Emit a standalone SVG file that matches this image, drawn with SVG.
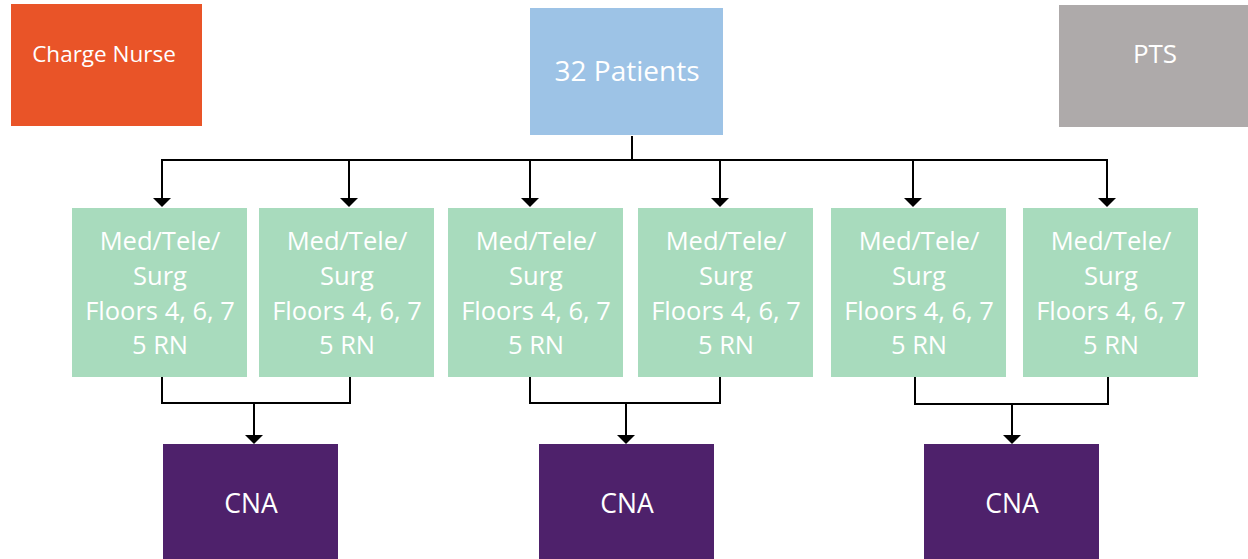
<svg xmlns="http://www.w3.org/2000/svg" width="1248" height="559" viewBox="0 0 1248 559">
  <style>
    .lbl { font-family: "Open Sans", "Liberation Sans", sans-serif; fill: #ffffff; text-anchor: middle; }
    .unit { fill: #a8dbbd; }
    .unit text { font-size: 25.5px; }
    .cna { fill: #4e216b; }
    .cna text { font-size: 26.5px; }
    .wire { fill: none; stroke: #000000; stroke-width: 2; }
    .head { fill: #000000; }
  </style>
  <defs>
    <!-- downward arrowhead, tip at (0,0) -->
    <path id="tip" class="head" d="M-9,-9 L9,-9 L0,0 Z"/>
  </defs>

  <!-- top row -->
  <g id="charge-nurse">
    <rect x="11" y="4" width="191" height="122" fill="#e95428"/>
    <text class="lbl" x="104" y="62" font-size="22.5">Charge Nurse</text>
  </g>
  <g id="patients">
    <rect x="530" y="8" width="193" height="127" fill="#9dc3e6"/>
    <text class="lbl" x="627" y="81" font-size="28">32 Patients</text>
  </g>
  <g id="pts">
    <rect x="1059" y="5" width="189" height="122" fill="#aeaaaa"/>
    <text class="lbl" x="1155" y="63" font-size="26">PTS</text>
  </g>

  <!-- connectors -->
  <g id="connectors">
    <path class="wire" d="M632,136 V160 M161,160 H1108"/>
    <path class="wire" d="M162,160 V199 M349,160 V199 M530,160 V199 M720,160 V199 M913,160 V199 M1107,160 V199"/>
    <use href="#tip" x="162" y="207"/>
    <use href="#tip" x="349" y="207"/>
    <use href="#tip" x="530" y="207"/>
    <use href="#tip" x="720" y="207"/>
    <use href="#tip" x="913" y="207"/>
    <use href="#tip" x="1107" y="207"/>

    <path class="wire" d="M162,377 V403 H350 V377 M254,403 V436"/>
    <path class="wire" d="M530,377 V403 H720 V377 M626,403 V436"/>
    <path class="wire" d="M915,377 V404 H1108 V377 M1012,404 V436"/>
    <use href="#tip" x="254" y="444"/>
    <use href="#tip" x="626" y="444"/>
    <use href="#tip" x="1012" y="444"/>
  </g>

  <!-- unit boxes -->
  <g id="unit-1" class="unit">
    <rect x="72" y="208" width="175" height="169"/>
    <text class="lbl" x="160"><tspan x="160" y="250">Med/Tele/</tspan><tspan x="160" y="285">Surg</tspan><tspan x="160" y="320">Floors 4, 6, 7</tspan><tspan x="160" y="354">5 RN</tspan></text>
  </g>
  <g id="unit-2" class="unit">
    <rect x="259" y="208" width="175" height="169"/>
    <text class="lbl" x="347"><tspan x="347" y="250">Med/Tele/</tspan><tspan x="347" y="285">Surg</tspan><tspan x="347" y="320">Floors 4, 6, 7</tspan><tspan x="347" y="354">5 RN</tspan></text>
  </g>
  <g id="unit-3" class="unit">
    <rect x="448" y="208" width="175" height="169"/>
    <text class="lbl" x="536"><tspan x="536" y="250">Med/Tele/</tspan><tspan x="536" y="285">Surg</tspan><tspan x="536" y="320">Floors 4, 6, 7</tspan><tspan x="536" y="354">5 RN</tspan></text>
  </g>
  <g id="unit-4" class="unit">
    <rect x="638" y="208" width="175" height="169"/>
    <text class="lbl" x="726"><tspan x="726" y="250">Med/Tele/</tspan><tspan x="726" y="285">Surg</tspan><tspan x="726" y="320">Floors 4, 6, 7</tspan><tspan x="726" y="354">5 RN</tspan></text>
  </g>
  <g id="unit-5" class="unit">
    <rect x="831" y="208" width="175" height="169"/>
    <text class="lbl" x="919"><tspan x="919" y="250">Med/Tele/</tspan><tspan x="919" y="285">Surg</tspan><tspan x="919" y="320">Floors 4, 6, 7</tspan><tspan x="919" y="354">5 RN</tspan></text>
  </g>
  <g id="unit-6" class="unit">
    <rect x="1023" y="208" width="175" height="169"/>
    <text class="lbl" x="1111"><tspan x="1111" y="250">Med/Tele/</tspan><tspan x="1111" y="285">Surg</tspan><tspan x="1111" y="320">Floors 4, 6, 7</tspan><tspan x="1111" y="354">5 RN</tspan></text>
  </g>

  <!-- aide boxes -->
  <g id="cna-1" class="cna">
    <rect x="163" y="444" width="175" height="115"/>
    <text class="lbl" x="251" y="513">CNA</text>
  </g>
  <g id="cna-2" class="cna">
    <rect x="539" y="444" width="175" height="115"/>
    <text class="lbl" x="627" y="513">CNA</text>
  </g>
  <g id="cna-3" class="cna">
    <rect x="924" y="444" width="175" height="115"/>
    <text class="lbl" x="1012" y="513">CNA</text>
  </g>
</svg>
